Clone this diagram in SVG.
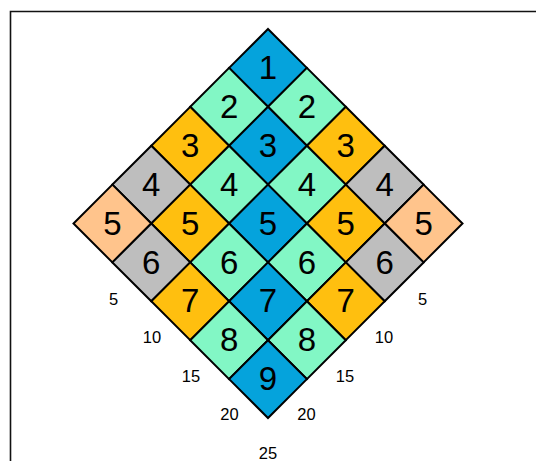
<svg xmlns="http://www.w3.org/2000/svg" xmlns:xlink="http://www.w3.org/1999/xlink" width="536" height="461" viewBox="0 0 536 461">
<style>
.c{stroke:#000;stroke-width:2;stroke-linejoin:miter}
.b{fill:#05A3DC}.m{fill:#82F7C5}.o{fill:#FFBF0F}.g{fill:#BEBEBE}.p{fill:#FFC48C}
.n{font-family:"Liberation Sans",Arial,sans-serif;font-size:33px;text-anchor:middle;fill:#000}
.l{font-family:"Liberation Sans",Arial,sans-serif;font-size:16.5px;text-anchor:middle;fill:#000}
</style>
<defs><path id="d" d="M0 0 L38.9 38.9 L0 77.8 L-38.9 38.9 Z"/></defs>
<rect width="536" height="461" fill="#fff"/>
<path d="M10.5 461 V11.5 H536" fill="none" stroke="#111" stroke-width="1.6"/>
<g id="cells">
<g id="c00"><use xlink:href="#d" href="#d" x="268" y="29" class="c b"/><text class="n" x="268" y="79">1</text></g>
<g id="c10"><use xlink:href="#d" href="#d" x="306.9" y="67.9" class="c m"/><text class="n" x="306.9" y="117.9">2</text></g>
<g id="c01"><use xlink:href="#d" href="#d" x="229.1" y="67.9" class="c m"/><text class="n" x="229.1" y="117.9">2</text></g>
<g id="c20"><use xlink:href="#d" href="#d" x="345.8" y="106.8" class="c o"/><text class="n" x="345.8" y="156.8">3</text></g>
<g id="c11"><use xlink:href="#d" href="#d" x="268" y="106.8" class="c b"/><text class="n" x="268" y="156.8">3</text></g>
<g id="c02"><use xlink:href="#d" href="#d" x="190.2" y="106.8" class="c o"/><text class="n" x="190.2" y="156.8">3</text></g>
<g id="c30"><use xlink:href="#d" href="#d" x="384.7" y="145.7" class="c g"/><text class="n" x="384.7" y="195.7">4</text></g>
<g id="c21"><use xlink:href="#d" href="#d" x="306.9" y="145.7" class="c m"/><text class="n" x="306.9" y="195.7">4</text></g>
<g id="c12"><use xlink:href="#d" href="#d" x="229.1" y="145.7" class="c m"/><text class="n" x="229.1" y="195.7">4</text></g>
<g id="c03"><use xlink:href="#d" href="#d" x="151.3" y="145.7" class="c g"/><text class="n" x="151.3" y="195.7">4</text></g>
<g id="c40"><use xlink:href="#d" href="#d" x="423.6" y="184.6" class="c p"/><text class="n" x="423.6" y="234.6">5</text></g>
<g id="c31"><use xlink:href="#d" href="#d" x="345.8" y="184.6" class="c o"/><text class="n" x="345.8" y="234.6">5</text></g>
<g id="c22"><use xlink:href="#d" href="#d" x="268" y="184.6" class="c b"/><text class="n" x="268" y="234.6">5</text></g>
<g id="c13"><use xlink:href="#d" href="#d" x="190.2" y="184.6" class="c o"/><text class="n" x="190.2" y="234.6">5</text></g>
<g id="c04"><use xlink:href="#d" href="#d" x="112.4" y="184.6" class="c p"/><text class="n" x="112.4" y="234.6">5</text></g>
<g id="c41"><use xlink:href="#d" href="#d" x="384.7" y="223.5" class="c g"/><text class="n" x="384.7" y="273.5">6</text></g>
<g id="c32"><use xlink:href="#d" href="#d" x="306.9" y="223.5" class="c m"/><text class="n" x="306.9" y="273.5">6</text></g>
<g id="c23"><use xlink:href="#d" href="#d" x="229.1" y="223.5" class="c m"/><text class="n" x="229.1" y="273.5">6</text></g>
<g id="c14"><use xlink:href="#d" href="#d" x="151.3" y="223.5" class="c g"/><text class="n" x="151.3" y="273.5">6</text></g>
<g id="c42"><use xlink:href="#d" href="#d" x="345.8" y="262.4" class="c o"/><text class="n" x="345.8" y="312.4">7</text></g>
<g id="c33"><use xlink:href="#d" href="#d" x="268" y="262.4" class="c b"/><text class="n" x="268" y="312.4">7</text></g>
<g id="c24"><use xlink:href="#d" href="#d" x="190.2" y="262.4" class="c o"/><text class="n" x="190.2" y="312.4">7</text></g>
<g id="c43"><use xlink:href="#d" href="#d" x="306.9" y="301.3" class="c m"/><text class="n" x="306.9" y="351.3">8</text></g>
<g id="c34"><use xlink:href="#d" href="#d" x="229.1" y="301.3" class="c m"/><text class="n" x="229.1" y="351.3">8</text></g>
<g id="c44"><use xlink:href="#d" href="#d" x="268" y="340.2" class="c b"/><text class="n" x="268" y="390.2">9</text></g>
</g>
<g id="labels">
<text class="l" x="113.5" y="305">5</text>
<text class="l" x="152" y="343.4">10</text>
<text class="l" x="191" y="381.8">15</text>
<text class="l" x="229.5" y="420.2">20</text>
<text class="l" x="422.5" y="305">5</text>
<text class="l" x="384" y="343.4">10</text>
<text class="l" x="345" y="381.8">15</text>
<text class="l" x="306.5" y="420.2">20</text>
<text class="l" x="268" y="458.6">25</text>
</g>
<g id="connectors"/>
</svg>
